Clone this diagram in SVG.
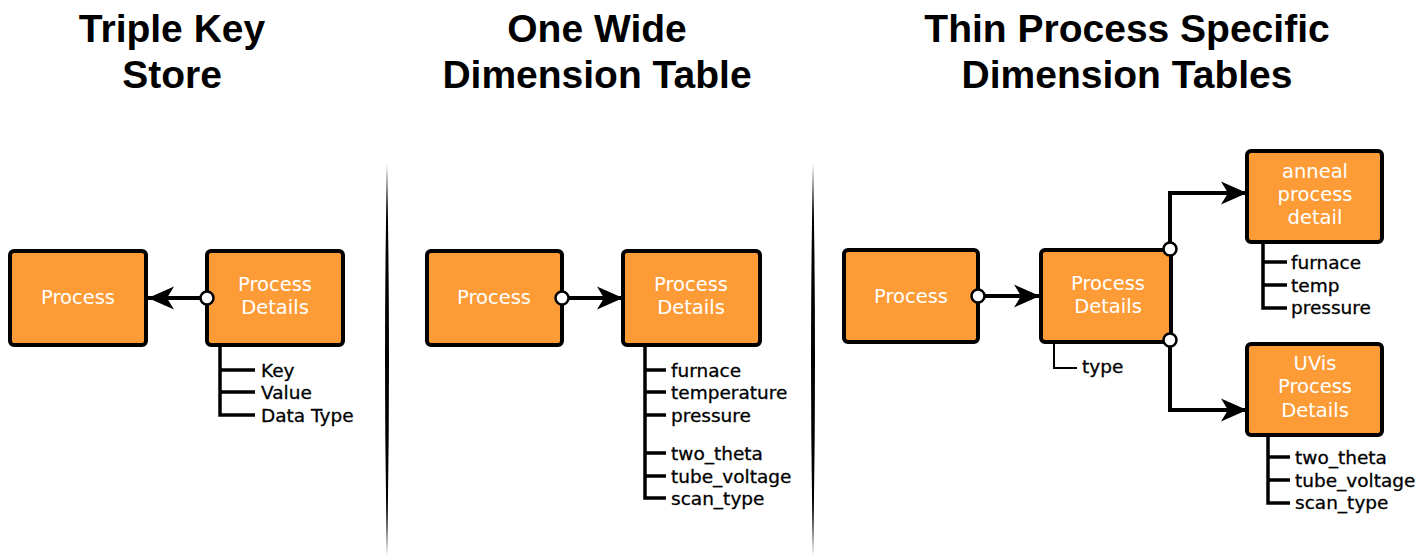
<svg xmlns="http://www.w3.org/2000/svg" width="1418" height="558" viewBox="0 0 1418 558">
<style>
.title{font-family:"Liberation Sans",Arial,sans-serif;font-weight:bold;font-size:39px;fill:#000;text-anchor:middle}
.box{fill:#FD9B37;stroke:#000;stroke-width:4}
.bt{font-family:"DejaVu Sans",sans-serif;font-size:19.5px;fill:#fff;text-anchor:middle}
.lbl{font-family:"DejaVu Sans",sans-serif;font-size:18.5px;fill:#000;stroke:#000;stroke-width:0.3}
.tree{fill:none;stroke:#000;stroke-width:3.5}
.thin{fill:none;stroke:#000;stroke-width:2}
.conn{fill:none;stroke:#000;stroke-width:4}
.dot{fill:#fff;stroke:#000;stroke-width:2.5}
.sep{fill:#000}
</style>
<defs>
<marker id="arr" markerUnits="userSpaceOnUse" markerWidth="28" markerHeight="26" refX="26" refY="13" orient="auto">
<path d="M0,1.5 L26,13 L0,24.5 L7,13 Z" fill="#000"/>
</marker>
</defs>
<rect width="1418" height="558" fill="#fff"/>

<g id="titles">
<text class="title" x="172" y="42">Triple Key</text>
<text class="title" x="172" y="88">Store</text>
<text class="title" x="597" y="42">One Wide</text>
<text class="title" x="597" y="88">Dimension Table</text>
<text class="title" x="1127" y="42">Thin Process Specific</text>
<text class="title" x="1127" y="88">Dimension Tables</text>
</g>

<g id="separators">
<path class="sep" d="M387,164 Q391,360 387,556 Q383,360 387,164 Z"/>
<path class="sep" d="M813,164 Q817,360 813,556 Q809,360 813,164 Z"/>
</g>

<g id="connectors">
<path class="conn" d="M207,298 H148" marker-end="url(#arr)"/>
<path class="conn" d="M562,298 H623" marker-end="url(#arr)"/>
<path class="conn" d="M978,296 H1040" marker-end="url(#arr)"/>
<path class="conn" d="M1170,249 V193 H1247" marker-end="url(#arr)"/>
<path class="conn" d="M1170,340 V410 H1247" marker-end="url(#arr)"/>
</g>

<g id="p1-process">
<rect class="box" x="10" y="251" width="136" height="94" rx="4"/>
<text class="bt" x="78" y="304">Process</text>
</g>
<g id="p1-details">
<rect class="box" x="207" y="251" width="136" height="94" rx="4"/>
<text class="bt" x="275" y="291">Process</text>
<text class="bt" x="275" y="314">Details</text>
<path class="tree" d="M220,345 V415 H255 M220,370 H255 M220,392 H255"/>
<text class="lbl" x="261" y="377">Key</text>
<text class="lbl" x="261" y="399">Value</text>
<text class="lbl" x="261" y="422">Data Type</text>
</g>

<g id="p2-process">
<rect class="box" x="427" y="251" width="135" height="94" rx="4"/>
<text class="bt" x="494" y="304">Process</text>
</g>
<g id="p2-details">
<rect class="box" x="623" y="251" width="137" height="94" rx="4"/>
<text class="bt" x="691" y="291">Process</text>
<text class="bt" x="691" y="314">Details</text>
<path class="tree" d="M645,345 V498 H666 M645,370 H666 M645,392 H666 M645,415 H666 M645,453 H666 M645,476 H666"/>
<text class="lbl" x="671" y="377">furnace</text>
<text class="lbl" x="671" y="399">temperature</text>
<text class="lbl" x="671" y="422">pressure</text>
<text class="lbl" x="671" y="460">two_theta</text>
<text class="lbl" x="671" y="483">tube_voltage</text>
<text class="lbl" x="671" y="505">scan_type</text>
</g>

<g id="p3-process">
<rect class="box" x="844" y="250" width="134" height="92" rx="4"/>
<text class="bt" x="911" y="303">Process</text>
</g>
<g id="p3-details">
<rect class="box" x="1041" y="250" width="130" height="92" rx="4"/>
<text class="bt" x="1108" y="290">Process</text>
<text class="bt" x="1108" y="313">Details</text>
<path class="thin" d="M1054,342 V368 H1077"/>
<text class="lbl" x="1082" y="373">type</text>
</g>
<g id="p3-anneal">
<rect class="box" x="1247" y="151" width="135" height="91" rx="4"/>
<text class="bt" x="1315" y="178">anneal</text>
<text class="bt" x="1315" y="201">process</text>
<text class="bt" x="1315" y="224">detail</text>
<path class="tree" d="M1263,242 V308 H1287 M1263,262 H1287 M1263,285 H1287"/>
<text class="lbl" x="1291" y="269">furnace</text>
<text class="lbl" x="1291" y="292">temp</text>
<text class="lbl" x="1291" y="314">pressure</text>
</g>
<g id="p3-uvis">
<rect class="box" x="1247" y="344" width="135" height="91" rx="4"/>
<text class="bt" x="1315" y="370">UVis</text>
<text class="bt" x="1315" y="393">Process</text>
<text class="bt" x="1315" y="417">Details</text>
<path class="tree" d="M1268,435 V503 H1290 M1268,457 H1290 M1268,480 H1290"/>
<text class="lbl" x="1295" y="464">two_theta</text>
<text class="lbl" x="1295" y="487">tube_voltage</text>
<text class="lbl" x="1295" y="509">scan_type</text>
</g>

<g id="dots">
<circle class="dot" cx="207" cy="298" r="6.5"/>
<circle class="dot" cx="562" cy="298" r="6.5"/>
<circle class="dot" cx="978" cy="296" r="6.5"/>
<circle class="dot" cx="1170" cy="249" r="6.5"/>
<circle class="dot" cx="1170" cy="340" r="6.5"/>
</g>
</svg>
